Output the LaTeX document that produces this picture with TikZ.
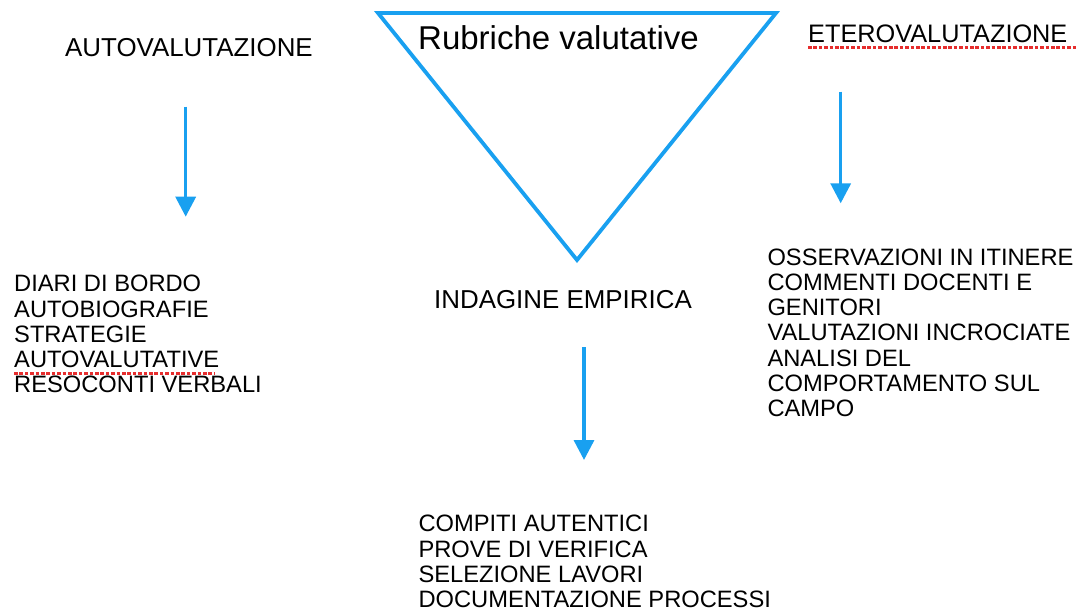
\documentclass[tikz,border=0pt]{standalone}
\usepackage{fontspec}
\setmainfont{Liberation Sans}
\usetikzlibrary{arrows.meta}
\definecolor{skyblue}{RGB}{25,160,240}
\definecolor{spellred}{RGB}{230,45,45}
\tikzset{
  heading/.style={anchor=base west, inner sep=0pt, font=\fontsize{25.9}{28}\selectfont},
  listtext/.style={anchor=north west, inner sep=0pt, align=left, font=\fontsize{23.7}{25.3}\selectfont},
  bluearrow/.style={draw=skyblue, line width=3.4pt, -{Triangle[width=20pt,length=20pt]}},
  spell/.style={draw=spellred, line width=2.6pt, dash pattern=on 3.6pt off 1.8pt},
  tri/.style={draw=skyblue, line width=3.8pt, line join=miter}
}
\begin{document}
\begin{tikzpicture}[x=1pt,y=-1pt]
\useasboundingbox (0,0) rectangle (1076,611);
% triangle
\coordinate (tl) at (378,13);
\coordinate (tr) at (776,13);
\coordinate (ap) at (577,260);
\draw[tri] (tl) -- (tr) -- (ap) -- cycle;
\node[anchor=base west, inner sep=0pt, font=\fontsize{33}{36}\selectfont] (rub) at (418,49.3) {Rubriche valutative};
% headings
\node[heading] (auto) at (65,56.7) {AUTOVALUTAZIONE};
\node[heading, font=\fontsize{25.3}{28}\selectfont] (etero) at (808,42.3) {ETEROVALUTAZIONE};
\node[heading] (ind) at (434,308.3) {INDAGINE EMPIRICA};
% lists
\node[listtext] (llist) at (14,275) {DIARI DI BORDO\\AUTOBIOGRAFIE\\STRATEGIE\\AUTOVALUTATIVE\\RESOCONTI VERBALI};
\node[listtext] (rlist) at (767.3,248.3) {OSSERVAZIONI IN ITINERE\\COMMENTI DOCENTI E\\GENITORI\\VALUTAZIONI INCROCIATE\\ANALISI DEL\\COMPORTAMENTO SUL\\CAMPO};
\node[listtext] (blist) at (418.3,515) {COMPITI AUTENTICI\\PROVE DI VERIFICA\\SELEZIONE LAVORI\\DOCUMENTAZIONE PROCESSI};
% arrows
\coordinate (a1s) at (185.7,106.7);
\coordinate (a1e) at (185.7,216.7);
\coordinate (a2s) at (840.7,91.7);
\coordinate (a2e) at (840.7,203.3);
\coordinate (a3s) at (584,347.3);
\coordinate (a3e) at (584,460);
\draw[bluearrow] (a1s) -- (a1e);
\draw[bluearrow] (a2s) -- (a2e);
\draw[bluearrow] (a3s) -- (a3e);
% spell-check underlines
\coordinate (u1s) at (808,47.7);
\coordinate (u1e) at (1076,47.7);
\coordinate (u2s) at (14,373.3);
\coordinate (u2e) at (215,373.3);
\draw[spell] (u1s) -- (u1e);
\draw[spell] (u2s) -- (u2e);
\end{tikzpicture}
\end{document}
